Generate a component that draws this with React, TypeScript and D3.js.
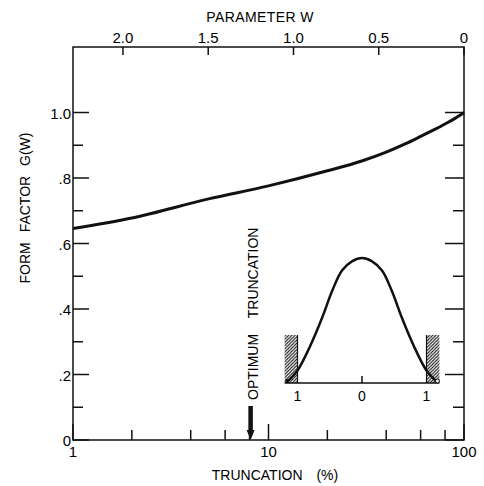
import React, { useEffect, useRef } from 'react';
import * as d3 from 'd3';

// main curve: form factor vs truncation (%)
const truncation = [1, 2, 5, 10, 20, 30, 40, 50, 60, 70, 80, 90, 100];
const formFactor = [0.646, 0.678, 0.737, 0.776, 0.822, 0.852, 0.879, 0.904, 0.927, 0.947, 0.965, 0.982, 1.0];

// axis ticks
const gMajor = [0, 0.2, 0.4, 0.6, 0.8, 1.0];
const gMinor = [0.1, 0.3, 0.5, 0.7, 0.9];
const gLabels = ['0', '.2', '.4', '.6', '.8', '1.0'];
const truncMajor = [1, 10, 100];
const truncMinor = [2, 4, 6, 8, 20, 40, 60, 80];
const wTicks = [2.0, 1.5, 1.0, 0.5, 0];
const wLabels = ['2.0', '1.5', '1.0', '0.5', '0'];

const optimum = 8.1;

// inset: truncated bell-shaped distribution
const insetX = [-1.15, -1.0, -0.8, -0.62, -0.46, -0.31, -0.15, 0, 0.15, 0.31, 0.46, 0.62, 0.8, 1.0, 1.15];
const insetY = [0.015, 0.1, 0.3, 0.52, 0.74, 0.9, 0.975, 1, 0.975, 0.9, 0.74, 0.52, 0.3, 0.1, 0.015];
const insetTicks = [-1, 0, 1];
const insetLabels = ['1', '0', '1'];
const hatchHeight = 0.384;

const App = () => {
  const ref = useRef<SVGSVGElement>(null);

  useEffect(() => {
    const svg = d3.select(ref.current);
    svg.selectAll('*').remove();

    const left = 73, right = 464, top = 47, bottom = 440;
    const font = 'Liberation Sans, Arial, sans-serif';

    const x = d3.scaleLog().domain([1, 100]).range([left, right]);
    const y = d3.scaleLinear().domain([0, 1.2]).range([bottom, top]);
    const w = d3.scaleLinear().domain([2.293, 0]).range([left, right]);

    const defs = svg.append('defs');
    defs.append('pattern')
      .attr('id', 'hatch')
      .attr('patternUnits', 'userSpaceOnUse')
      .attr('width', 3.2)
      .attr('height', 3.2)
      .append('path')
      .attr('d', 'M-1,1 l2,-2 M0,3.2 l3.2,-3.2 M2.2,4.2 l2,-2')
      .attr('stroke', '#111')
      .attr('stroke-width', 1);

    // frame
    svg.append('rect')
      .attr('x', left).attr('y', top)
      .attr('width', right - left).attr('height', bottom - top)
      .attr('fill', 'none')
      .attr('stroke', '#111')
      .attr('stroke-width', 1.5);

    // left ticks
    svg.selectAll('.lmaj').data(gMajor).enter().append('line')
      .attr('x1', left).attr('x2', left + 16)
      .attr('y1', d => y(d)).attr('y2', d => y(d))
      .attr('stroke', '#111').attr('stroke-width', 1.5);
    svg.selectAll('.lmin').data(gMinor).enter().append('line')
      .attr('x1', left).attr('x2', left + 10)
      .attr('y1', d => y(d)).attr('y2', d => y(d))
      .attr('stroke', '#111').attr('stroke-width', 1.5);
    // right ticks
    svg.selectAll('.rmaj').data(gMajor).enter().append('line')
      .attr('x1', right).attr('x2', right - 19)
      .attr('y1', d => y(d)).attr('y2', d => y(d))
      .attr('stroke', '#111').attr('stroke-width', 1.5);
    svg.selectAll('.rmin').data(gMinor).enter().append('line')
      .attr('x1', right).attr('x2', right - 11)
      .attr('y1', d => y(d)).attr('y2', d => y(d))
      .attr('stroke', '#111').attr('stroke-width', 1.5);

    svg.selectAll('.glab').data(gMajor).enter().append('text')
      .attr('x', left - 2)
      .attr('y', d => y(d) + 6)
      .attr('text-anchor', 'end')
      .attr('font-family', font)
      .attr('font-size', 15)
      .text((d, i) => gLabels[i]);

    // bottom ticks
    svg.selectAll('.bmaj').data(truncMajor).enter().append('line')
      .attr('x1', d => x(d)).attr('x2', d => x(d))
      .attr('y1', bottom).attr('y2', bottom - 16)
      .attr('stroke', '#111').attr('stroke-width', 1.5);
    svg.selectAll('.bmin').data(truncMinor).enter().append('line')
      .attr('x1', d => x(d)).attr('x2', d => x(d))
      .attr('y1', bottom).attr('y2', bottom - 10)
      .attr('stroke', '#111').attr('stroke-width', 1.5);
    svg.selectAll('.blab').data(truncMajor).enter().append('text')
      .attr('x', d => x(d))
      .attr('y', 457)
      .attr('text-anchor', 'middle')
      .attr('font-family', font)
      .attr('font-size', 15)
      .text(d => String(d));

    // top ticks (parameter W)
    svg.selectAll('.tt').data(wTicks).enter().append('line')
      .attr('x1', d => w(d)).attr('x2', d => w(d))
      .attr('y1', top).attr('y2', top + 8)
      .attr('stroke', '#111').attr('stroke-width', 1.5);
    svg.selectAll('.tlab').data(wTicks).enter().append('text')
      .attr('x', d => w(d))
      .attr('y', 43)
      .attr('text-anchor', 'middle')
      .attr('font-family', font)
      .attr('font-size', 15)
      .text((d, i) => wLabels[i]);

    // titles
    svg.append('text')
      .attr('x', 260).attr('y', 22)
      .attr('text-anchor', 'middle')
      .attr('font-family', font).attr('font-size', 14)
      .attr('letter-spacing', 0.4)
      .text('PARAMETER W');
    svg.append('text')
      .attr('x', 275).attr('y', 480)
      .attr('text-anchor', 'middle')
      .attr('font-family', font).attr('font-size', 14)
      .attr('word-spacing', 10)
      .text('TRUNCATION (%)');
    svg.append('text')
      .attr('transform', 'translate(30,208) rotate(-90)')
      .attr('text-anchor', 'middle')
      .attr('font-family', font).attr('font-size', 14)
      .attr('word-spacing', 6)
      .text('FORM FACTOR G(W)');

    // main curve
    const line = d3.line<number>()
      .x((d, i) => x(truncation[i]))
      .y(d => y(d))
      .curve(d3.curveMonotoneX);
    svg.append('path')
      .datum(formFactor)
      .attr('d', line)
      .attr('fill', 'none')
      .attr('stroke', '#111')
      .attr('stroke-width', 3);

    // optimum truncation arrow
    const ax = x(optimum);
    svg.append('line')
      .attr('x1', ax).attr('x2', ax)
      .attr('y1', 406).attr('y2', 432)
      .attr('stroke', '#111').attr('stroke-width', 4.5);
    svg.append('path')
      .attr('d', `M${ax - 4},430 L${ax + 4},430 L${ax},${bottom} Z`)
      .attr('fill', '#111');
    svg.append('text')
      .attr('transform', `translate(${ax + 7},400) rotate(-90)`)
      .attr('font-family', font).attr('font-size', 14)
      .attr('word-spacing', 12)
      .text('OPTIMUM TRUNCATION');

    // inset
    const ix = d3.scaleLinear().domain([-1.2, 1.2]).range([284.6, 439.4]);
    const iy = d3.scaleLinear().domain([0, 1]).range([383, 258]);
    const inset = svg.append('g');

    [[-1.2, -1], [1, 1.2]].forEach(([a, b]) => {
      inset.append('rect')
        .attr('x', ix(a)).attr('y', iy(hatchHeight))
        .attr('width', ix(b) - ix(a))
        .attr('height', iy(0) - iy(hatchHeight))
        .attr('fill', 'url(#hatch)');
    });
    [-1, 1].forEach(v => {
      inset.append('line')
        .attr('x1', ix(v)).attr('x2', ix(v))
        .attr('y1', iy(0)).attr('y2', iy(hatchHeight))
        .attr('stroke', '#111').attr('stroke-width', 1.2);
    });
    inset.append('line')
      .attr('x1', ix(-1.2)).attr('x2', ix(1.2))
      .attr('y1', iy(0)).attr('y2', iy(0))
      .attr('stroke', '#111').attr('stroke-width', 1.5);
    inset.append('line')
      .attr('x1', ix(0)).attr('x2', ix(0))
      .attr('y1', iy(0)).attr('y2', iy(0) - 7)
      .attr('stroke', '#111').attr('stroke-width', 1.5);
    inset.selectAll('.ilab').data(insetTicks).enter().append('text')
      .attr('x', d => ix(d))
      .attr('y', 401)
      .attr('text-anchor', 'middle')
      .attr('font-family', font).attr('font-size', 14)
      .text((d, i) => insetLabels[i]);

    const bell = d3.line<number>()
      .x((d, i) => ix(insetX[i]))
      .y(d => iy(d))
      .curve(d3.curveCatmullRom.alpha(0.5));
    inset.append('path')
      .datum(insetY)
      .attr('d', bell)
      .attr('fill', 'none')
      .attr('stroke', '#111')
      .attr('stroke-width', 2.5);
    inset.append('circle')
      .attr('cx', ix(-1.16)).attr('cy', iy(0) - 2).attr('r', 2)
      .attr('fill', '#111');
    inset.append('circle')
      .attr('cx', ix(1.17)).attr('cy', iy(0) - 2).attr('r', 2)
      .attr('fill', 'white').attr('stroke', '#111').attr('stroke-width', 1);
  }, []);

  return (
    <svg
      ref={ref}
      width={484}
      height={486}
      style={{ position: 'absolute', left: 0, top: 0, background: 'white' }}
    />
  );
};

export default App;
